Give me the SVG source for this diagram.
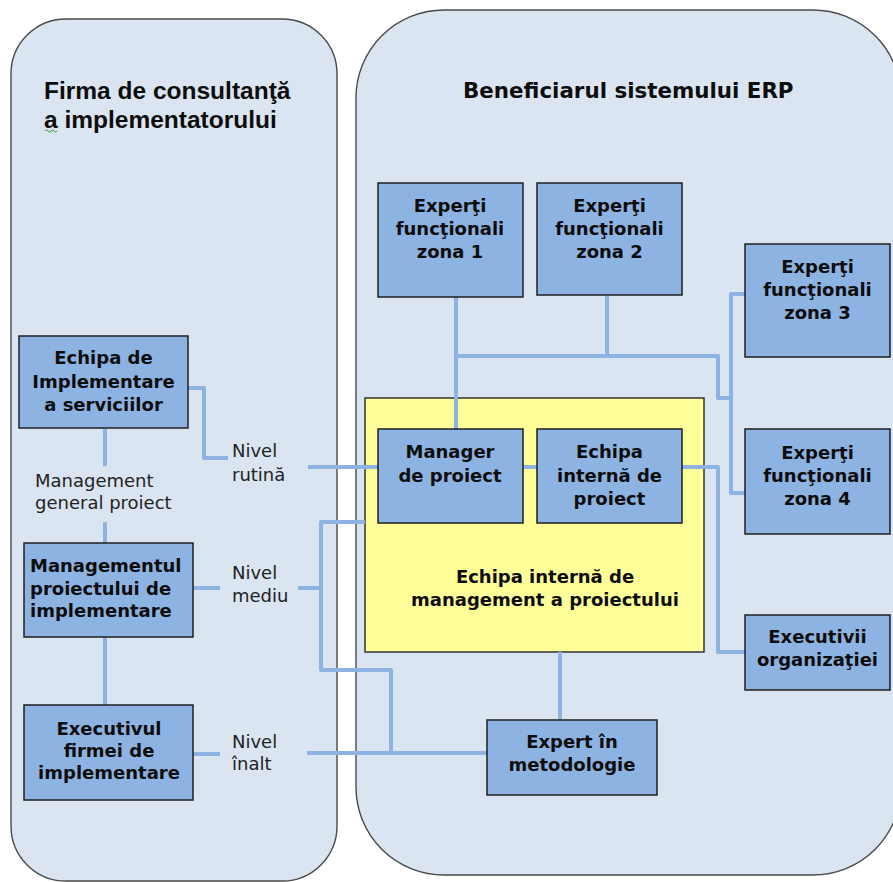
<svg xmlns="http://www.w3.org/2000/svg" width="893" height="882" viewBox="0 0 893 882">
  <style>
    .panel { fill: #DBE5F1; stroke: #4a4a4a; stroke-width: 1.4; }
    .team { fill: #FFFF99; stroke: #333333; stroke-width: 1.5; }
    .box { fill: #8DB3E2; stroke: #1f1f1f; stroke-width: 1.5; }
    .link { fill: none; stroke: #8DB3E2; stroke-width: 4; stroke-linejoin: round; }
    .lbl { font-family: "DejaVu Sans", Verdana, sans-serif; font-weight: bold; font-size: 18px; fill: #0d0d0d; text-anchor: middle; }
    .lvl { font-family: "DejaVu Sans", Verdana, sans-serif; font-size: 18px; fill: #222222; }
    .title { font-family: "DejaVu Sans", Verdana, sans-serif; font-weight: bold; font-size: 21.4px; fill: #0d0d0d; }
    .title2 { font-family: "Liberation Sans", Arial, sans-serif; font-weight: bold; font-size: 24.5px; fill: #0d0d0d; }
  </style>

  <rect width="893" height="882" fill="#ffffff"/>

  <!-- organisational panels -->
  <g id="panel-consultant">
    <rect class="panel" x="11" y="19" width="326" height="862" rx="55" ry="55"/>
    <text class="title2" x="44" y="99">Firma de consultanţă</text>
    <text class="title2" x="44" y="128">a implementatorului</text>
    <path d="M45,131 q1.5,-2 3,0 t3,0 t3,0 t3,0" fill="none" stroke="#3a9a3a" stroke-width="1"/>
  </g>
  <g id="panel-beneficiary">
    <rect class="panel" x="356" y="10" width="545" height="865" rx="88" ry="88"/>
    <text class="title" x="463" y="98">Beneficiarul sistemului ERP</text>
  </g>

  <g id="internal-team">
    <rect class="team" x="365" y="398" width="339" height="254"/>
    <text class="lbl" x="545" y="583">Echipa internă de</text>
    <text class="lbl" x="545" y="606">management a proiectului</text>
  </g>

  <!-- connectors -->
  <g id="connectors">
    <path class="link" d="M188,388 H204 V458 H228"/>
    <path class="link" d="M308,467 H378"/>
    <path class="link" d="M105,429 V466"/>
    <path class="link" d="M105,522 V543"/>
    <path class="link" d="M193,588 H220"/>
    <path class="link" d="M298,588 H321"/>
    <path class="link" d="M365,522 H321 V670 H391 V753"/>
    <path class="link" d="M105,637 V705"/>
    <path class="link" d="M193,754 H220"/>
    <path class="link" d="M307,753 H487"/>
    <path class="link" d="M560,652 V720"/>
    <path class="link" d="M456,297 V430"/>
    <path class="link" d="M607,296 V356"/>
    <path class="link" d="M456,356 H718 V398 H731"/>
    <path class="link" d="M745,294 H731 V493 H745"/>
    <path class="link" d="M523,467 H537"/>
    <path class="link" d="M682,467 H718 V652 H745"/>
  </g>

  <!-- consultant side -->
  <g id="impl-team">
    <rect class="box" x="19" y="336" width="169" height="92"/>
    <text class="lbl" x="103.5" y="364">Echipa de</text>
    <text class="lbl" x="103.5" y="388">Implementare</text>
    <text class="lbl" x="103.5" y="411">a serviciilor</text>
  </g>
  <g id="impl-management">
    <rect class="box" x="24" y="543" width="169" height="94"/>
    <text class="lbl" x="30" y="572" style="text-anchor:start">Managementul</text>
    <text class="lbl" x="30" y="595" style="text-anchor:start">proiectului de</text>
    <text class="lbl" x="30" y="617" style="text-anchor:start">implementare</text>
  </g>
  <g id="impl-executive">
    <rect class="box" x="24" y="705" width="169" height="95"/>
    <text class="lbl" x="109" y="735">Executivul</text>
    <text class="lbl" x="109" y="757">firmei de</text>
    <text class="lbl" x="109" y="779">implementare</text>
  </g>

  <!-- level labels -->
  <g id="labels">
    <text class="lvl" x="35" y="487">Management</text>
    <text class="lvl" x="35" y="509">general proiect</text>
    <text class="lvl" x="232" y="457">Nivel</text>
    <text class="lvl" x="232" y="481">rutină</text>
    <text class="lvl" x="232" y="579">Nivel</text>
    <text class="lvl" x="232" y="602">mediu</text>
    <text class="lvl" x="232" y="748">Nivel</text>
    <text class="lvl" x="232" y="770">înalt</text>
  </g>

  <!-- beneficiary side -->
  <g id="experts-zone1">
    <rect class="box" x="378" y="183" width="145" height="114"/>
    <text class="lbl" x="450" y="212">Experţi</text>
    <text class="lbl" x="450" y="235">funcţionali</text>
    <text class="lbl" x="450" y="258">zona 1</text>
  </g>
  <g id="experts-zone2">
    <rect class="box" x="537" y="183" width="145" height="112"/>
    <text class="lbl" x="609.5" y="212">Experţi</text>
    <text class="lbl" x="609.5" y="235">funcţionali</text>
    <text class="lbl" x="609.5" y="258">zona 2</text>
  </g>
  <g id="experts-zone3">
    <rect class="box" x="745" y="244" width="145" height="113"/>
    <text class="lbl" x="817.5" y="273">Experţi</text>
    <text class="lbl" x="817.5" y="296">funcţionali</text>
    <text class="lbl" x="817.5" y="319">zona 3</text>
  </g>
  <g id="experts-zone4">
    <rect class="box" x="745" y="429" width="145" height="105"/>
    <text class="lbl" x="817.5" y="459">Experţi</text>
    <text class="lbl" x="817.5" y="482">funcţionali</text>
    <text class="lbl" x="817.5" y="505">zona 4</text>
  </g>
  <g id="project-manager">
    <rect class="box" x="378" y="429" width="145" height="94"/>
    <text class="lbl" x="450" y="458">Manager</text>
    <text class="lbl" x="450" y="482">de proiect</text>
  </g>
  <g id="internal-project-team">
    <rect class="box" x="537" y="429" width="145" height="94"/>
    <text class="lbl" x="609.5" y="458">Echipa</text>
    <text class="lbl" x="609.5" y="482">internă de</text>
    <text class="lbl" x="609.5" y="505">proiect</text>
  </g>
  <g id="org-executives">
    <rect class="box" x="745" y="615" width="145" height="75"/>
    <text class="lbl" x="817.5" y="643">Executivii</text>
    <text class="lbl" x="817.5" y="666">organizaţiei</text>
  </g>
  <g id="methodology-expert">
    <rect class="box" x="487" y="720" width="170" height="75"/>
    <text class="lbl" x="572" y="748">Expert în</text>
    <text class="lbl" x="572" y="771">metodologie</text>
  </g>
</svg>
